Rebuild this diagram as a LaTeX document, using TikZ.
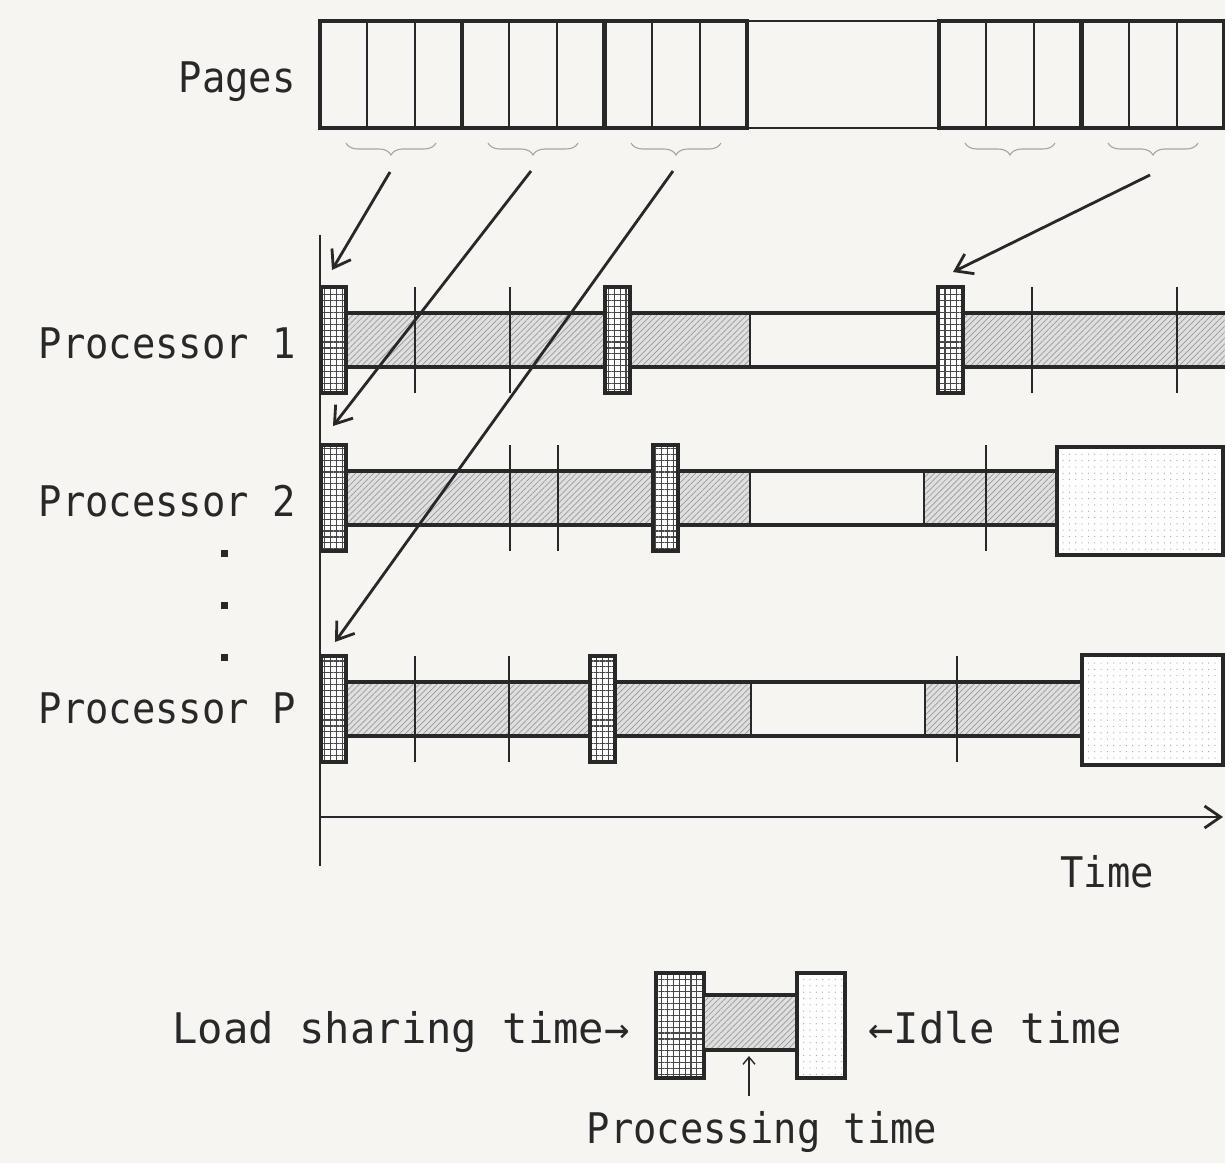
\documentclass[tikz,border=0pt]{standalone}
\usepackage{fontspec}
\usepackage{tikz}
\usetikzlibrary{arrows.meta, patterns.meta, decorations.pathreplacing}
\newfontfamily\chartfont[FakeStretch=0.92]{DejaVu Sans Mono}
\newfontfamily\legfont[FakeStretch=1.0]{DejaVu Sans Mono}
\definecolor{cInk}{RGB}{40,40,40}
\definecolor{cPaper}{RGB}{247,245,242}
\tikzset{
	pagebox/.style={draw=cInk, line width=2.6pt},
	pageline/.style={draw=cInk, line width=0.9pt},
	bracesty/.style={decorate, decoration={brace, mirror, amplitude=0.3cm}, draw=gray!70, line width=0.8pt},
	loadbox/.style={draw=cInk, line width=2.6pt, preaction={fill=white}, pattern={Hatch[angle=0, distance=4.2pt, line width=0.8pt]}, pattern color=cInk!85},
	workbox/.style={draw=cInk, line width=1pt, preaction={fill=gray!25}, pattern={Lines[angle=45, distance=3pt, line width=0.5pt]}, pattern color=gray!80},
	idlebox/.style={draw=cInk, line width=2.6pt, preaction={fill=white}, pattern={Dots[distance=4.5pt, radius=0.45pt]}, pattern color=gray!70},
	rail/.style={draw=cInk, line width=2.6pt},
	tickmark/.style={draw=cInk, line width=1.6pt},
	feed/.style={-{Straight Barb[length=4mm, width=5.5mm]}, draw=cInk, line width=2pt},
	% text in the chart
	txt/.style={font=\chartfont\fontsize{30}{34}\selectfont, text=cInk, inner sep=0pt},
	legtxt/.style={font=\legfont\fontsize{30}{34}\selectfont, text=cInk, inner sep=0pt},
}
% one row of the chart
\newcommand{\workbar}[3]{\path[workbox] (#1,#3-27) rectangle (#2,#3+27);}
\newcommand{\railrow}[3]{\draw[rail] (#1,#3-27) -- (#2,#3-27) (#1,#3+27) -- (#2,#3+27);}
\newcommand{\loadblk}[2]{\path[loadbox] (#1,#2-53) rectangle (#1+25,#2+53);}
\newcommand{\tickat}[2]{\draw[tickmark] (#1,#2-53) -- (#1,#2+53);}

\begin{document}
\begin{tikzpicture}[x=0.025cm, y=-0.025cm]
	\useasboundingbox (0,0) rectangle (1225,1163);
	\fill[cPaper] (0,0) rectangle (1225,1163);

	% pages
	\node[txt, anchor=base east] (pages) at (296,93) {Pages};
	\draw[pageline] (747,21) -- (939,21) (747,128) -- (939,128);
	\foreach \a in {320,462,605,939,1082} {
		\draw[pageline] (\a+47,21) -- (\a+47,128) (\a+95,21) -- (\a+95,128);
		\draw[pagebox] (\a,21) rectangle (\a+142,128);
		\draw[bracesty] (\a+26,143) -- (\a+116,143);
	}
	\coordinate (pg1) at (390,172);
	\coordinate (pg2) at (531,171);
	\coordinate (pg3) at (673,171);
	\coordinate (pg5) at (1150,175);

	% axes
	\coordinate (ax0) at (320,235);
	\coordinate (ax1) at (320,866);
	\draw[cInk, line width=1.2pt] (ax0) -- (ax1);
	\coordinate (t0) at (320,817);
	\coordinate (t1) at (1223,817);
	\draw[feed] (t0) -- (t1);
	\node[txt, anchor=base] (time) at (1107,887) {Time};

	% processor 1
	\node[txt, anchor=base east] (proc1) at (296,358) {Processor 1};
	\workbar{345}{750}{340}
	\workbar{963}{1226}{340}
	\railrow{321}{1226}{340}
	\foreach \x in {415,510,1032,1177} \tickat{\x}{340};
	\loadblk{321}{340}
	\loadblk{605}{340}
	\loadblk{938}{340}

	% processor 2
	\node[txt, anchor=base east] (proc2) at (296,516) {Processor 2};
	\workbar{345}{750}{498}
	\workbar{924}{1057}{498}
	\railrow{321}{1057}{498}
	\foreach \x in {510,558,986} \tickat{\x}{498};
	\loadblk{321}{498}
	\loadblk{653}{498}
	\path[idlebox] (1057,447) rectangle (1223,555);

	% dots
	\foreach \y in {553,605,657} \fill[cInk] (221,\y-3.5) rectangle (228,\y+3.5);

	% processor P
	\node[txt, anchor=base east] (procP) at (296,723) {Processor P};
	\workbar{345}{751}{709}
	\workbar{925}{1082}{709}
	\railrow{321}{1082}{709}
	\foreach \x in {415,509,957} \tickat{\x}{709};
	\loadblk{321}{709}
	\loadblk{590}{709}
	\path[idlebox] (1082,655) rectangle (1223,765);

	% pages handed out
	\coordinate (in1) at (332,270);
	\coordinate (in2) at (333,426);
	\coordinate (inP) at (335,642);
	\coordinate (in4) at (953,272);
	\draw[feed] (pg1) -- (in1);
	\draw[feed] (pg2) -- (in2);
	\draw[feed] (pg3) -- (inP);
	\draw[feed] (pg5) -- (in4);

	% legend
	\path[loadbox] (656,973) rectangle (704,1078);
	\path[workbox] (704,995) rectangle (797,1050);
	\draw[rail] (704,995) -- (797,995) (704,1050) -- (797,1050);
	\path[idlebox] (797,973) rectangle (845,1078);
	\node[legtxt, anchor=base east] (lload) at (630,1043) {Load sharing time→};
	\node[legtxt, anchor=base west] (lidle) at (868,1043) {←Idle time};
	\node[txt, anchor=base] (lproc) at (762,1143) {Processing time};
	\coordinate (pfoot) at (749,1096);
	\coordinate (ptip) at (749,1056);
	\draw[-{Straight Barb[length=1.8mm, width=3mm]}, draw=cInk, line width=1pt] (pfoot) -- (ptip);
\end{tikzpicture}
\end{document}
